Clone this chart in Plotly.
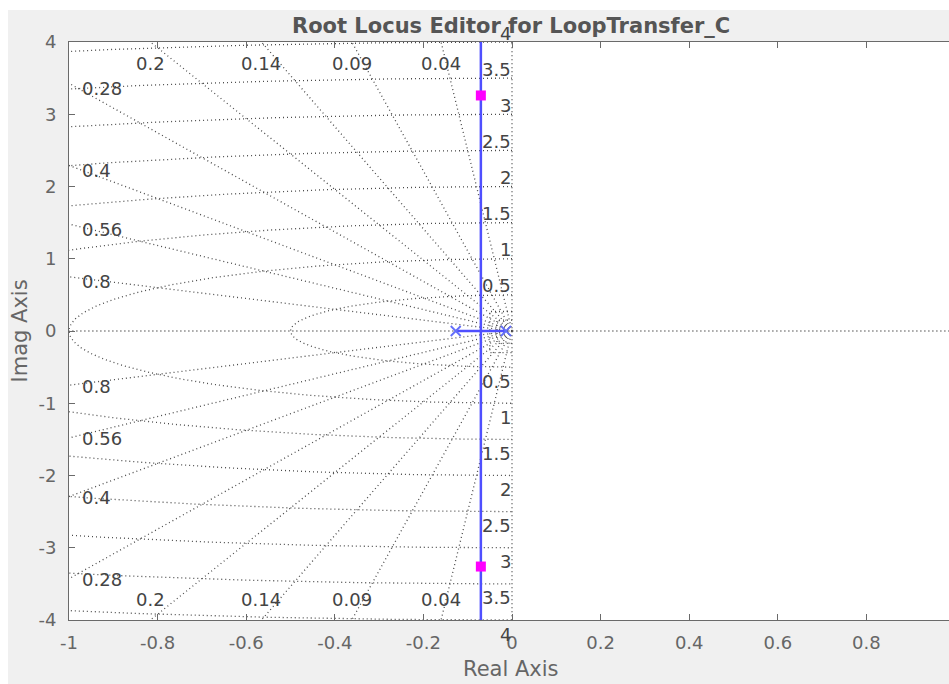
import numpy as np
import plotly.graph_objects as go

# ---- data ----
zeta_side = [0.28, 0.4, 0.56, 0.8]          # damping labels on the left edge
zeta_top = [0.2, 0.14, 0.09, 0.04]          # damping labels on top/bottom edges
zeta_all = zeta_top + zeta_side
wn_values = [0.5, 1, 1.5, 2, 2.5, 3, 3.5, 4]  # natural-frequency circles
wn_labels = ["0.5", "1", "1.5", "2", "2.5", "3", "3.5", "4"]

open_loop_poles_re = [-0.127, -0.0136]
open_loop_poles_im = [0.0, 0.0]
locus_h_re = [-0.127, -0.0136]
locus_h_im = [0.0, 0.0]
locus_v_re = [-0.0703, -0.0703]
locus_v_im = [-4.6, 4.6]
closed_loop_re = [-0.0703, -0.0703]
closed_loop_im = [3.26, -3.26]

# small dotted contours near the origin
box_outer_re = [0.0, -0.05, -0.05, 0.0]
box_outer_im = [0.27, 0.27, -0.30, -0.30]
box_inner_re = [0.0, -0.034, -0.034, 0.0]
box_inner_im = [0.15, 0.15, -0.17, -0.17]

x_ticks = [-1, -0.8, -0.6, -0.4, -0.2, 0, 0.2, 0.4, 0.6, 0.8, 1]
x_tick_text = ["-1", "-0.8", "-0.6", "-0.4", "-0.2", "0", "0.2", "0.4", "0.6", "0.8", "1"]
y_ticks = [-4, -3, -2, -1, 0, 1, 2, 3, 4]
y_tick_text = ["-4", "-3", "-2", "-1", "0", "1", "2", "3", "4"]

TITLE = "Root Locus Editor for LoopTransfer_C"

FONT = "DejaVu Sans"
GRID_COLOR = "#4a4a4a"
GRID_DASH = "1px,3px"
LABEL_COLOR = "#444444"

fig = go.Figure()

def grid_line(x, y):
    fig.add_trace(go.Scatter(x=x, y=y, mode="lines", hoverinfo="skip",
                             line=dict(color=GRID_COLOR, width=1.3, dash=GRID_DASH),
                             showlegend=False))

# damping-ratio rays
R = 12.0
for z in zeta_all:
    s = np.sqrt(1 - z * z) / z
    xe = -R / np.sqrt(1 + s * s)
    grid_line([0, xe], [0, -xe * s])
    grid_line([0, xe], [0, xe * s])
# zeta = 1 / zeta = 0 lines
grid_line([-1.2, 1.2], [0, 0])
grid_line([0, 0], [-4.5, 4.5])

# natural-frequency semicircles
t = np.linspace(np.pi / 2, 3 * np.pi / 2, 721)
for w in wn_values:
    grid_line(list(w * np.cos(t)), list(w * np.sin(t)))

# small contours near origin
grid_line(box_outer_re, box_outer_im)
grid_line(box_inner_re, box_inner_im)

# root locus branches
LOCUS = "#4f4fff"
fig.add_trace(go.Scatter(x=locus_h_re, y=locus_h_im, mode="lines",
                         line=dict(color=LOCUS, width=2.5), showlegend=False))
fig.add_trace(go.Scatter(x=locus_v_re, y=locus_v_im, mode="lines",
                         line=dict(color=LOCUS, width=2.5), showlegend=False))
# open loop poles
fig.add_trace(go.Scatter(x=open_loop_poles_re, y=open_loop_poles_im, mode="markers",
                         marker=dict(symbol="x-thin-open", size=10,
                                     line=dict(color=LOCUS, width=1.8)),
                         showlegend=False))
# closed loop poles
fig.add_trace(go.Scatter(x=closed_loop_re, y=closed_loop_im, mode="markers",
                         marker=dict(symbol="square", size=10, color="#ff00ff",
                                     line=dict(width=0)),
                         showlegend=False))

ann = []
lab_font = dict(family=FONT, size=18, color=LABEL_COLOR)
# damping labels on left edge
for z in zeta_side:
    s = np.sqrt(1 - z * z) / z
    ann.append(dict(x=-1, y=s, xref="x", yref="y", text=f"{z:g}", showarrow=False,
                    xanchor="left", yanchor="middle", xshift=11, yshift=-5, font=lab_font))
    ann.append(dict(x=-1, y=-s, xref="x", yref="y", text=f"{z:g}", showarrow=False,
                    xanchor="left", yanchor="middle", xshift=11, yshift=-1, font=lab_font))
# damping labels along top / bottom
for z in zeta_top:
    s = np.sqrt(1 - z * z) / z
    xc = -4.0 / s
    ann.append(dict(x=xc, y=3.7, xref="x", yref="y", text=f"{z:g}", showarrow=False,
                    xanchor="center", yanchor="middle", font=lab_font))
    ann.append(dict(x=xc, y=-3.72, xref="x", yref="y", text=f"{z:g}", showarrow=False,
                    xanchor="center", yanchor="middle", font=lab_font))
# natural-frequency labels
for w, lab in zip(wn_values, wn_labels):
    ann.append(dict(x=0, y=w, xref="x", yref="y", text=lab, showarrow=False,
                    xanchor="right", yanchor="middle", xshift=1, yshift=9, font=lab_font))
    ann.append(dict(x=0, y=-w, xref="x", yref="y", text=lab, showarrow=False,
                    xanchor="right", yanchor="middle", xshift=1, yshift=-14, font=lab_font))

# title and axis titles
W, H = 949, 684
L, T, B = 69, 42, 64
pw, ph = W - L, H - T - B

def px_x(p):
    return (p - L) / pw

def px_y(p):
    return (H - B - p) / ph

ann.append(dict(x=px_x(511), y=px_y(25.5), xref="paper", yref="paper", text=f"<b>{TITLE}</b>",
                showarrow=False, xanchor="center", yanchor="middle",
                font=dict(family=FONT, size=21, color="#555555")))
ann.append(dict(x=px_x(511), y=px_y(669), xref="paper", yref="paper", text="Real Axis",
                showarrow=False, xanchor="center", yanchor="middle",
                font=dict(family=FONT, size=21, color="#666666")))
ann.append(dict(x=px_x(19.5), y=0.5, xref="paper", yref="paper", text="Imag Axis",
                showarrow=False, xanchor="center", yanchor="middle", textangle=-90,
                font=dict(family=FONT, size=21, color="#666666")))

shapes = [
    dict(type="rect", xref="paper", yref="paper", x0=px_x(0), x1=px_x(8), y0=px_y(H), y1=px_y(0),
         fillcolor="white", line=dict(width=0), layer="below"),
    dict(type="rect", xref="paper", yref="paper", x0=px_x(0), x1=px_x(W), y0=px_y(10), y1=px_y(0),
         fillcolor="white", line=dict(width=0), layer="below"),
]

axis_common = dict(showgrid=False, zeroline=False, showline=True, linecolor="#6a6a6a",
                   linewidth=1, ticks="inside", ticklen=6, tickcolor="#6a6a6a",
                   tickfont=dict(family=FONT, size=18, color="#666666"))

xmax = -1 + pw / 443.0
fig.update_layout(
    width=W, height=H,
    margin=dict(l=L, r=0, t=T, b=B, pad=0),
    paper_bgcolor="#f0f0f0", plot_bgcolor="white",
    xaxis=dict(range=[-1, xmax], tickvals=x_ticks, ticktext=x_tick_text,
               ticklabelstandoff=6, mirror="ticks", **axis_common),
    yaxis=dict(range=[-4, 4], tickvals=y_ticks, ticktext=y_tick_text,
               ticklabelstandoff=8, mirror=False, **axis_common),
    annotations=ann, shapes=shapes, showlegend=False,
)

fig.write_html("out.html", config={"displayModeBar": False})
